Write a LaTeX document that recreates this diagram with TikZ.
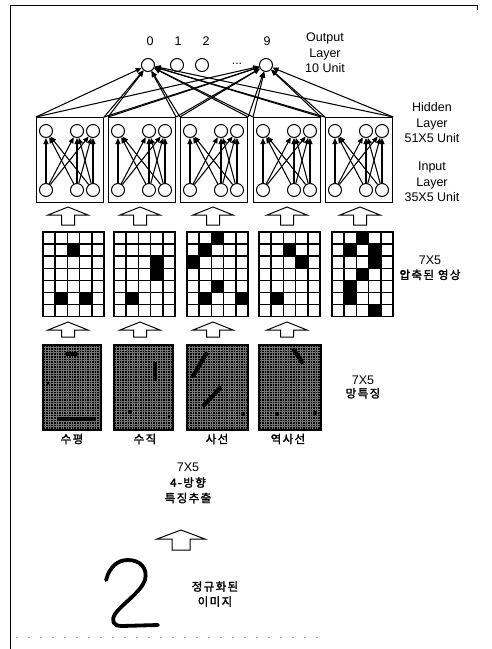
\documentclass[tikz,border=0pt]{standalone}
\usepackage{fontspec}
\setmainfont{Liberation Sans}
\newfontfamily\kr[FakeBold=2,LetterSpace=12]{Noto Sans CJK KR}
\usetikzlibrary{arrows.meta}
\newcommand{\fatup}[6]{\draw[fatline] (#1,#2) -- ++(-#3,#5) -- ++(#3-#4,0) -- ++(0,#6) -- ++(2*#4,0) -- ++(0,-#6) -- ++(#3-#4,0) -- cycle;}
\newcommand{\meshbox}[4]{%
  \fill[black] (#1,#2) rectangle (#3,#4);
  \foreach \k in {1,...,23}{\draw[white!45!black,line width=0.35pt] (#1+\k*2.55,#2) -- (#1+\k*2.55,#4);}
  \foreach \k in {1,...,33}{\draw[white!45!black,line width=0.35pt] (#1,#2+\k*2.55) -- (#3,#2+\k*2.55);}
  \draw[line width=1.1pt] (#1,#2) rectangle (#3,#4);}
\begin{document}
\begin{tikzpicture}[x=1pt,y=-1pt,
  neuron/.style={circle,draw,line width=1pt,minimum size=13pt,inner sep=0pt,fill=white},
  conn/.style={line width=1.05pt,-{Triangle[length=6pt,width=5pt]}},
  boxframe/.style={draw,line width=1.1pt,minimum width=67pt,minimum height=85pt,inner sep=0pt,anchor=north west},
  fatline/.style={line width=1pt,line join=miter,fill=white},
  cell/.style={line width=1.5pt},
  lbl/.style={font=\fontsize{12.5}{15.5}\selectfont,align=center,inner sep=0pt},
  klbl/.style={font=\fontsize{11.5}{15}\selectfont\kr,align=center,inner sep=0pt},
  feat/.style={line width=4.2pt,line cap=round}]
\useasboundingbox (0,0) rectangle (492,649);
% frame
\draw[line width=1pt] (10,649) -- (10,5) -- (477,5) -- (477,10);
\draw[black!30,line width=0.8pt,dash pattern=on 2pt off 10pt] (16,637) -- (322,637);
% output layer
\node[neuron] (o0) at (148,65) {};
\node[neuron] (o1) at (177,65) {};
\node[neuron] (o2) at (202,65) {};
\node[neuron] (o9) at (266,65) {};
\node[lbl] (l0) at (150,41) {0};
\node[lbl] (l1) at (178,41) {1};
\node[lbl] (l2) at (206,41) {2};
\node[lbl] (l9) at (267,41) {9};
\node[lbl] (dots) at (237,64) {...};
\node[lbl] (outlbl) at (325,53) {Output\\Layer\\10 Unit};
% boxes
\foreach \i/\bx in {1/36,2/108,3/180,4/253,5/325}{
  \node[boxframe] (box\i) at (\bx,117) {};
  \node[neuron] (t\i a) at (\bx+10,131) {};
  \node[neuron] (t\i b) at (\bx+41,131) {};
  \node[neuron] (t\i c) at (\bx+57,131) {};
  \node[neuron] (b\i a) at (\bx+10,190) {};
  \node[neuron] (b\i b) at (\bx+41,190) {};
  \node[neuron] (b\i c) at (\bx+57,190) {};
  \foreach \s in {a,b,c}{\foreach \t in {a,b,c}{\draw[conn] (b\i\s) -- (t\i\t);}}
  \foreach \o in {0,9}{
    \draw[conn] (box\i.north west) -- (o\o);
    \draw[conn] (box\i.north east) -- (o\o);}
}
\node[lbl] (hidlbl) at (432,123) {Hidden\\Layer\\51X5 Unit};
\node[lbl] (inlbl) at (432,182) {Input\\Layer\\35X5 Unit};
% arrows upper row
\foreach \cx in {68,140,213,287,360}{\fatup{\cx}{207}{20}{6.5}{8}{10}}
% 7x5 grids
\foreach \g/\gx/\cells in {1/43/{1/2,5/1,5/3},2/114/{2/3,3/3,5/1},3/187/{0/2,1/1,2/0,4/2,5/1,5/4},4/259/{1/2,2/3,5/1},5/332/{0/2,1/1,1/3,2/3,3/2,4/1,5/1,6/3}}{
  \foreach \r/\c in \cells{\fill (\gx+\c*12.2,232+\r*12.1) rectangle ++(12.2,12.1);}
  \foreach \r in {0,...,6}{\foreach \c in {0,...,4}{\draw[cell] (\gx+\c*12.2,232+\r*12.1) rectangle ++(12.2,12.1);}}
}
\node[lbl] (cmplbl) at (430,268) {7X5\\[-1pt]{\kr\fontsize{11.5}{14}\selectfont 압축된 영상}};
% arrows lower row
\foreach \cx in {68,140,213,287}{\fatup{\cx}{322}{20}{6.5}{8}{7}}
% mesh feature maps
\meshbox{43}{345}{101}{430}
\meshbox{114}{345}{173}{430}
\meshbox{187}{345}{248}{430}
\meshbox{259}{345}{321}{430}
\draw[feat] (59,419) -- (94,419);
\draw[feat] (67,354) -- (76,354);
\fill (48,383) circle (1.6);
\draw[feat] (155,364) -- (155,379);
\fill (130,412) circle (2);
\fill (169,416) circle (1.5);
\draw[feat] (206,354) -- (193,376);
\draw[feat] (220,388) -- (204,405);
\fill (243,414) circle (2);
\draw[feat] (294,350) -- (302,362);
\fill (277,414) circle (2.2);
\fill (315,413) circle (2.2);
\node[klbl] (k1) at (72,439) {수평};
\node[klbl] (k2) at (145,439) {수직};
\node[klbl] (k3) at (217,439) {사선};
\node[klbl] (k4) at (288,439) {역사선};
\node[lbl] (meshlbl) at (363,387) {7X5\\[-2pt]{\kr\fontsize{11.5}{14}\selectfont 망특징}};
\node[lbl] (featlbl) at (188,483) {7X5\\{\kr\fontsize{11.5}{15}\selectfont 4-방향}\\{\kr\fontsize{11.5}{15}\selectfont 특징추출}};
% bottom arrow
\fatup{181}{530}{24}{9}{9}{11}
% handwritten 2
\draw[line width=3.8pt,line cap=round,line join=round]
  (106,580) .. controls (110,566) and (118,560) .. (128,560)
  .. controls (140,560) and (148,568) .. (145,580)
  .. controls (141,592) and (122,604) .. (115,614)
  .. controls (111,621) and (113,626) .. (122,626)
  -- (158,625);
\node[klbl] (normlbl) at (215,594) {정규화된\\이미지};
\end{tikzpicture}
\end{document}
